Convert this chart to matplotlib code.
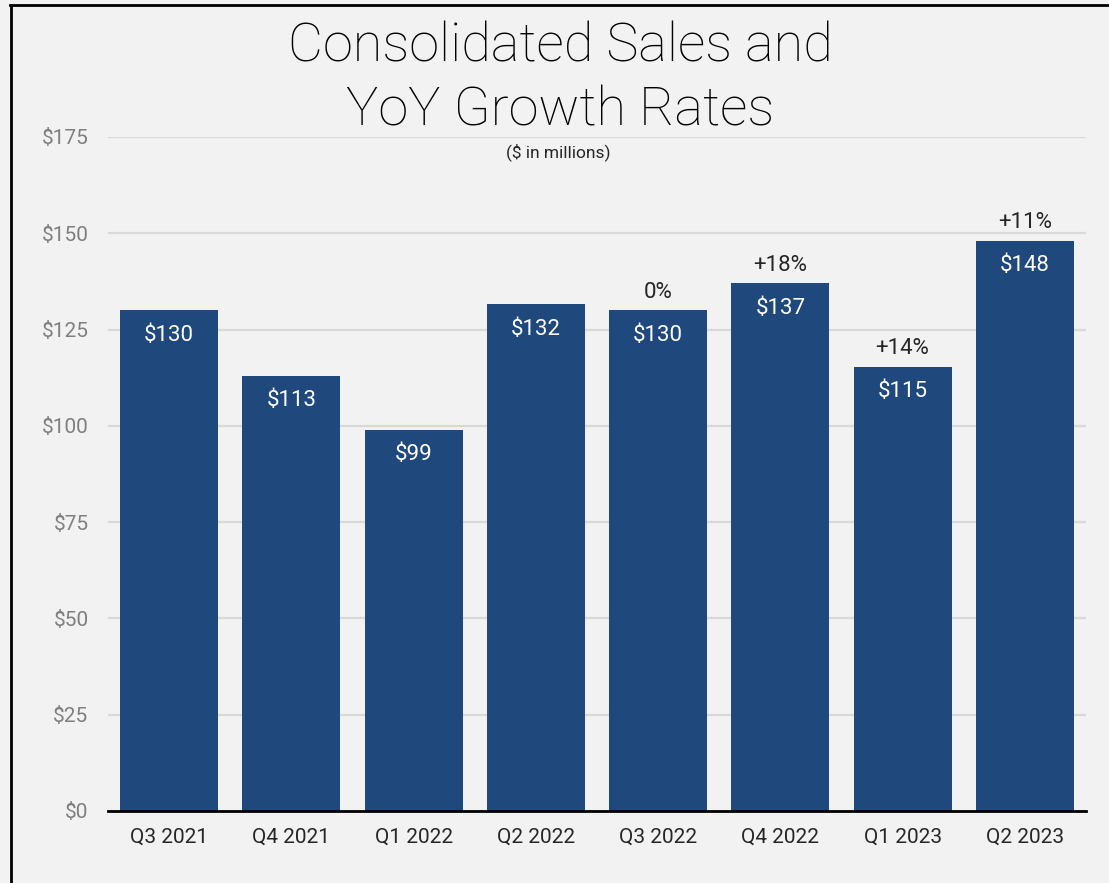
"""
Consolidated sales bar chart with YoY growth labels, saved as out.png
"""
import matplotlib.pyplot as plt
from matplotlib.lines import Line2D

plt.rcParams["font.family"] = ["Roboto", "DejaVu Sans"]

quarters = ["Q3 2021", "Q4 2021", "Q1 2022", "Q2 2022",
            "Q3 2022", "Q4 2022", "Q1 2023", "Q2 2023"]
sales = [130, 113, 99, 131.6, 130, 137, 115.4, 148]
sales_labels = ["$130", "$113", "$99", "$132", "$130", "$137", "$115", "$148"]
growth_labels = ["", "", "", "", "0%", "+18%", "+14%", "+11%"]
yticks = [0, 25, 50, 75, 100, 125, 150, 175]

BG = "#f2f2f2"
BAR = "#1f497d"

W, H = 1109, 883
fig = plt.figure(figsize=(W / 100, H / 100), dpi=100, facecolor=BG)
ax = fig.add_axes([108 / W, 1 - 811 / H, (1086 - 108) / W, (811 - 137) / H])
ax.set_facecolor(BG)

x = range(len(quarters))
bars = ax.bar(x, sales, width=0.8, color=BAR, zorder=3)

ax.set_xlim(-0.5, len(quarters) - 0.5)
ax.set_ylim(0, 175)
ax.set_yticks(yticks)
ax.set_yticklabels([f"${v}" for v in yticks])
ax.set_xticks(list(x))
ax.set_xticklabels(quarters)
ax.tick_params(axis="y", length=0, pad=14, labelsize=15, labelcolor="#7f7f7f")
ax.tick_params(axis="x", length=0, pad=12, labelsize=15, labelcolor="#262626")
ax.grid(axis="y", color="#d9d9d9", linewidth=1.6, zorder=0)
for s in ["top", "right", "left"]:
    ax.spines[s].set_visible(False)
ax.spines["bottom"].set_color("black")
ax.spines["bottom"].set_linewidth(2)
ax.spines["bottom"].set_zorder(4)

for b, lab, g in zip(bars, sales_labels, growth_labels):
    cx = b.get_x() + b.get_width() / 2
    top = b.get_height()
    ax.annotate(lab, (cx, top), xytext=(0, -18), textcoords="offset points",
                ha="center", va="center", color="white", fontsize=16, zorder=5)
    if g:
        ax.annotate(g, (cx, top), xytext=(0, 13), textcoords="offset points",
                    ha="center", va="center", color="#262626", fontsize=16, zorder=5)

fig.text(560 / W, 1 - 79 / H, "Consolidated Sales and\nYoY Growth Rates",
         ha="center", va="center", fontsize=39, fontweight="light",
         color="black", linespacing=1.3)
fig.text(558 / W, 1 - 152 / H, "($ in millions)", ha="center", va="center",
         fontsize=12.5, color="#262626")

# frame lines on top and left edge
fig.add_artist(Line2D([10 / W, 1], [1 - 4.5 / H, 1 - 4.5 / H],
                      transform=fig.transFigure, color="black", linewidth=2))
fig.add_artist(Line2D([10.5 / W, 10.5 / W], [0, 1 - 4.5 / H],
                      transform=fig.transFigure, color="black", linewidth=2))

fig.savefig("out.png", dpi=100, facecolor=BG)
